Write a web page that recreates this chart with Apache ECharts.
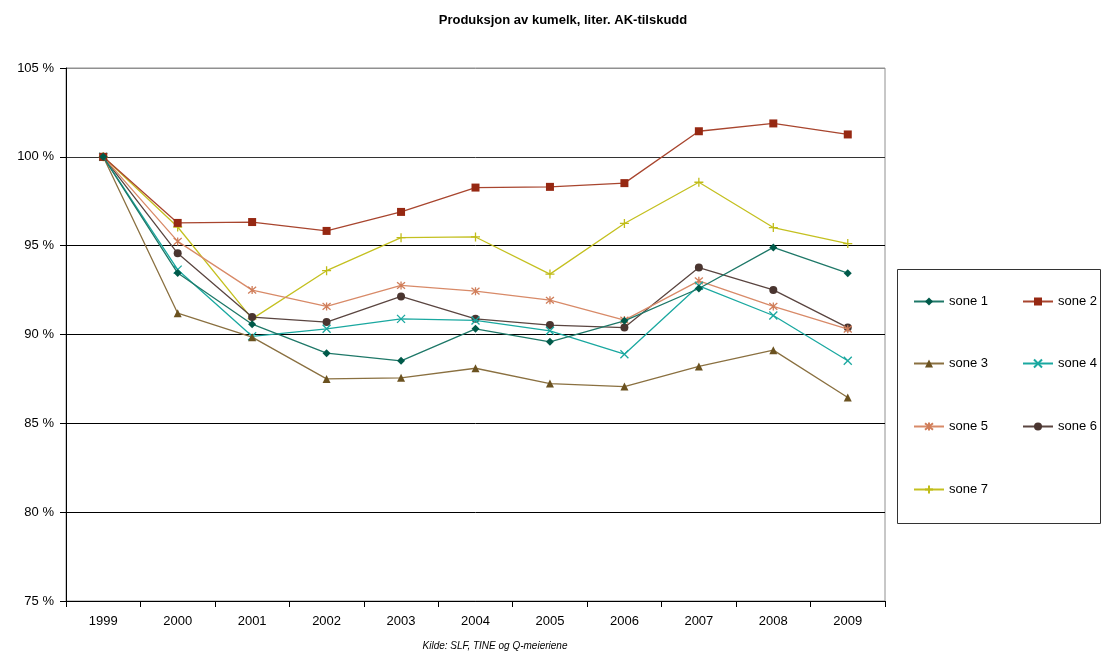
<!DOCTYPE html>
<html>
<head>
<meta charset="utf-8">
<script src="https://cdn.jsdelivr.net/npm/echarts@6/dist/echarts.min.js"></script>
<style>html,body{margin:0;padding:0;background:#fff;}#c{width:1102px;height:652px;}</style>
</head>
<body>
<div id="c"></div>
<script>
var years = ['1999','2000','2001','2002','2003','2004','2005','2006','2007','2008','2009'];
var sone1 = [100, 93.46, 90.58, 88.95, 88.52, 90.32, 89.59, 90.77, 92.59, 94.90, 93.45];
var sone2 = [100, 96.28, 96.33, 95.83, 96.90, 98.27, 98.31, 98.52, 101.44, 101.88, 101.26];
var sone3 = [100, 91.20, 89.85, 87.50, 87.56, 88.10, 87.24, 87.07, 88.20, 89.12, 86.45];
var sone4 = [100, 93.65, 89.90, 90.32, 90.88, 90.79, 90.21, 88.89, 92.74, 91.07, 88.52];
var sone5 = [100, 95.24, 92.50, 91.58, 92.76, 92.44, 91.93, 90.81, 93.02, 91.58, 90.30];
var sone6 = [100, 94.57, 90.98, 90.70, 92.14, 90.88, 90.53, 90.39, 93.77, 92.51, 90.39];
var sone7 = [100, 96.05, 90.88, 93.59, 95.45, 95.49, 93.40, 96.25, 98.57, 96.02, 95.12];
var seriesNames = ['sone 1','sone 2','sone 3','sone 4','sone 5','sone 6','sone 7'];
var yTicks = [75, 80, 85, 90, 95, 100, 105];

var X = 'path://M0,0L10,10M10,0L0,10';
var STAR = 'path://M0,0L10,10M10,0L0,10M5,-1L5,11';
var PLUS = 'path://M5,0L5,10M0,5L10,5';

var styles = [
  {data: sone1, line: '#1E7868', mark: '#005A4A', symbol: 'diamond', size: 8, stroke: false},
  {data: sone2, line: '#A8452E', mark: '#962812', symbol: 'rect', size: 8, stroke: false},
  {data: sone3, line: '#8A7040', mark: '#6B5220', symbol: 'triangle', size: 8, stroke: false},
  {data: sone4, line: '#1AA8A0', mark: '#1AA8A0', symbol: X, size: 8, stroke: true},
  {data: sone5, line: '#D88A68', mark: '#D07E5A', symbol: STAR, size: 8, stroke: true},
  {data: sone6, line: '#5A4540', mark: '#4A3530', symbol: 'circle', size: 8, stroke: false},
  {data: sone7, line: '#C4C020', mark: '#C0BC18', symbol: PLUS, size: 9, stroke: true}
];

var series = styles.map(function (s, i) {
  return {
    name: seriesNames[i],
    type: 'line',
    data: s.data,
    symbol: s.symbol,
    symbolSize: s.size,
    showAllSymbol: true,
    animation: false,
    z: 10 - i,
    lineStyle: {color: s.line, width: 1.3},
    itemStyle: s.stroke ? {color: 'rgba(0,0,0,0)', borderColor: s.mark, borderWidth: 1.3}
                        : {color: s.mark, borderWidth: 0},
    emphasis: {disabled: true}
  };
});

var legendPos = [
  [913, 295], [1022, 295],
  [913, 357], [1022, 357],
  [913, 420], [1022, 420],
  [913, 483]
];
var legends = seriesNames.map(function (n, i) {
  return {
    data: [n],
    left: legendPos[i][0],
    top: legendPos[i][1],
    itemWidth: 30,
    itemHeight: 10,
    itemGap: 5,
    padding: 0,
    textStyle: {fontFamily: 'Liberation Sans, Arial, sans-serif', fontSize: 13, color: '#000'}
  };
});

var chart = echarts.init(document.getElementById('c'), null, {renderer: 'canvas'});
chart.setOption({
  backgroundColor: '#fff',
  animation: false,
  title: [
    {text: 'Produksjon av kumelk, liter. AK-tilskudd', left: 558, top: 9, textAlign: 'center',
     textStyle: {fontFamily: 'Liberation Sans, Arial, sans-serif', fontSize: 13, fontWeight: 'bold', color: '#000'}},
    {text: 'Kilde: SLF, TINE og Q-meieriene', left: 490, top: 636, textAlign: 'center',
     textStyle: {fontFamily: 'Liberation Sans, Arial, sans-serif', fontSize: 10, fontStyle: 'italic', fontWeight: 'normal', color: '#000'}}
  ],
  legend: legends,
  graphic: [{
    type: 'rect', left: 895, top: 267,
    shape: {width: 203, height: 254},
    style: {fill: 'none', stroke: '#333', lineWidth: 1}, silent: true, z: 0
  }],
  grid: {left: 66, right: 217, top: 68, bottom: 51, show: true, borderColor: '#909090', borderWidth: 1, backgroundColor: 'transparent'},
  xAxis: {
    type: 'category', data: years, boundaryGap: true,
    axisLine: {lineStyle: {color: '#000', width: 1}},
    axisTick: {show: true, alignWithLabel: false, length: 6, lineStyle: {color: '#000'}},
    axisLabel: {margin: 14, fontFamily: 'Liberation Sans, Arial, sans-serif', fontSize: 13, color: '#000'},
    splitLine: {show: false}
  },
  yAxis: {
    type: 'value', min: yTicks[0], max: yTicks[yTicks.length - 1], interval: 5,
    axisLine: {show: true, lineStyle: {color: '#000', width: 1}},
    axisTick: {show: true, length: 6, lineStyle: {color: '#000'}},
    axisLabel: {margin: 12, formatter: '{value} %', fontFamily: 'Liberation Sans, Arial, sans-serif', fontSize: 13, color: '#000'},
    splitLine: {show: true, lineStyle: {color: ['#000', '#000', '#000', '#000', '#000', '#333', '#909090'], width: 1}}
  },
  series: series
});
</script>
</body>
</html>
